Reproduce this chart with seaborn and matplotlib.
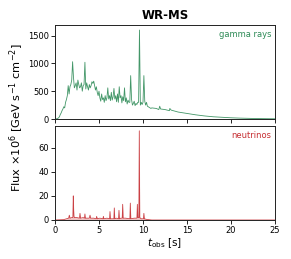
import numpy as np
import pandas as pd
import matplotlib
import matplotlib.pyplot as plt
import seaborn as sns

matplotlib.use("Agg")

# -----------------------------------------------------------------------
# Data
# -----------------------------------------------------------------------

# gamma rays, 0.1 s grid from 0 to 11 s
gamma_t_main = np.round(np.arange(0, 111) * 0.1, 2)
gamma_v_main = [
    0, 2, 5, 10, 20, 40,
    80, 110, 150, 180, 220,
    200, 300, 350, 420, 600,
    450, 580, 620, 700, 1030,
    750, 560, 600, 650, 520,
    700, 620, 560, 580, 650,
    500, 600, 620, 1020, 540,
    650, 580, 520, 620, 560,
    600, 670, 640, 680, 600,
    520, 580, 480, 420, 500,
    380, 320, 450, 350, 380,
    300, 420, 330, 380, 560,
    360, 420, 330, 480, 340,
    400, 550, 360, 420, 310,
    450, 300, 580, 380, 420,
    290, 400, 330, 560, 310,
    380, 270, 340, 300, 300,
    780, 350, 250, 280, 320,
    240, 280, 260, 300, 300,
    1600, 250, 300, 260, 300,
    780, 320, 250, 300, 230,
    220, 210, 200, 190, 200,
]
gamma_t_tail = [11.5, 11.8, 11.9, 12.0, 12.5, 13.0, 13.05, 13.2, 14, 15,
                16, 17, 18, 19, 20, 21, 22, 23, 24, 25]
gamma_v_tail = [190, 170, 230, 180, 170, 150, 190, 160, 125, 100,
                75, 55, 40, 30, 22, 16, 12, 8, 6, 4]

# neutrinos
nu_t = [0, 1.0, 1.3, 1.55, 1.63, 1.7, 1.9, 2.03, 2.08, 2.12,
        2.15, 2.2, 2.5, 2.78, 2.84, 2.9, 3.2, 3.35, 3.4, 3.45,
        3.5, 3.9, 3.98, 4.05, 4.4, 4.68, 4.73, 4.8, 5.1, 5.45,
        5.5, 5.55, 5.9, 6.2, 6.25, 6.3, 6.69, 6.74, 6.79, 7.0,
        7.22, 7.27, 7.32, 7.5, 7.64, 7.69, 7.74, 8.0, 8.51, 8.56,
        8.61, 9.0, 9.31, 9.36, 9.41, 9.53, 9.58, 9.63, 9.8, 10.05,
        10.1, 10.15, 10.4, 11.0, 25]
nu_v = [0, 0.3, 1.0, 1.5, 4, 1.5, 2, 2, 20, 8,
        3, 2, 2, 1.5, 5.5, 1.5, 2, 1.5, 5, 1.5,
        1.5, 1.5, 4, 1.5, 1.5, 1, 3, 1, 1.5, 1,
        3, 1, 1.5, 1, 7, 1, 1, 10, 1, 1.5,
        1, 8, 1, 1.5, 1.5, 13, 1.5, 1.5, 1, 14,
        1, 1.5, 1.5, 13, 2, 2, 74, 2, 1, 1,
        5.5, 1, 0.5, 0, 0]

GAMMA_COLOR = "#2e8b57"
NU_COLOR = "#c62f33"

# -----------------------------------------------------------------------
# Plot
# -----------------------------------------------------------------------

sns.set_style("ticks", {"text.color": "black", "axes.labelcolor": "black",
                        "xtick.color": "black", "ytick.color": "black",
                        "axes.edgecolor": "#222222"})

gamma = pd.DataFrame({
    "t": list(gamma_t_main) + gamma_t_tail,
    "flux": gamma_v_main + gamma_v_tail,
})
nu = pd.DataFrame({"t": nu_t, "flux": nu_v})

fig = plt.figure(figsize=(2.91, 2.59), dpi=100)
ax1 = fig.add_axes([0.189, 0.5405, 0.756, 0.363])
ax2 = fig.add_axes([0.189, 0.1506, 0.756, 0.363])

sns.lineplot(data=gamma, x="t", y="flux", ax=ax1, color=GAMMA_COLOR,
             linewidth=0.6, alpha=0.9)

sns.lineplot(data=nu, x="t", y="flux", ax=ax2, color=NU_COLOR,
             linewidth=0.6, alpha=0.9)
ax2.fill_between(nu["t"], nu["flux"], color=NU_COLOR, alpha=0.3, linewidth=0)

for ax in (ax1, ax2):
    ax.set_xlim(0, 25)
    ax.set_xticks([0, 5, 10, 15, 20, 25])
    ax.tick_params(labelsize=6, length=3, width=0.6, pad=1.5)
    ax.set_xlabel("")
    ax.set_ylabel("")
    for s in ax.spines.values():
        s.set_linewidth(0.7)

ax1.set_ylim(0, 1690)
ax1.set_yticks([0, 500, 1000, 1500])
ax1.tick_params(labelbottom=False)
ax2.set_ylim(0, 78)
ax2.set_yticks([0, 20, 40, 60])

ax1.text(0.985, 0.95, "gamma rays", transform=ax1.transAxes, ha="right",
         va="top", fontsize=6, color=GAMMA_COLOR)
ax2.text(0.985, 0.95, "neutrinos", transform=ax2.transAxes, ha="right",
         va="top", fontsize=6, color=NU_COLOR)

ax1.set_title("WR-MS", fontsize=8.5, fontweight="bold", pad=4)
ax2.set_xlabel(r"$t_{\rm obs}$ [s]", fontsize=7.5, labelpad=1)
fig.text(0.057, 0.545, r"Flux $\times10^6$ [GeV s$^{-1}$ cm$^{-2}$]",
         rotation=90, ha="center", va="center", fontsize=8.2)

fig.savefig("out.png", dpi=100)
plt.close(fig)
